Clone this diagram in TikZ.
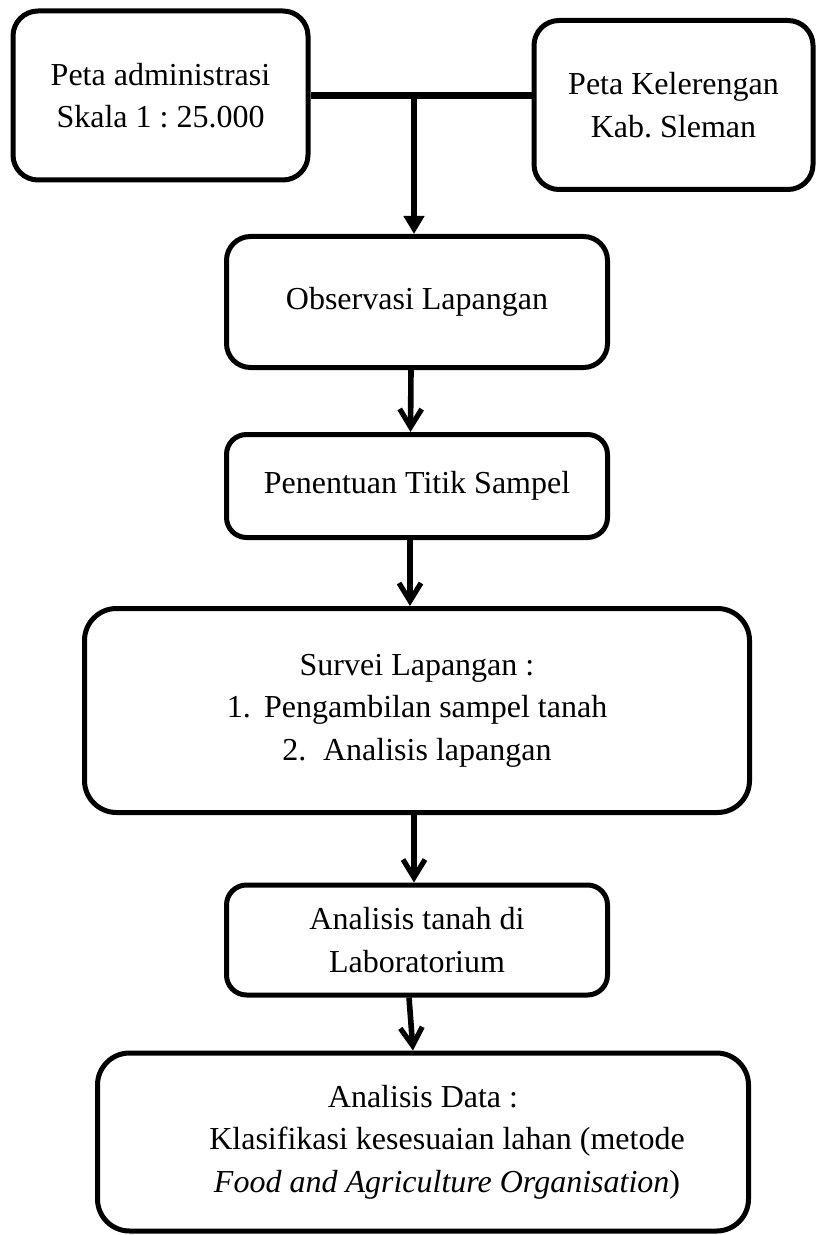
\documentclass[tikz,border=0pt]{standalone}
\usepackage{fontspec}
\setmainfont{Liberation Serif}
\usetikzlibrary{arrows.meta}
\frenchspacing
\begin{document}
\begin{tikzpicture}[x=0.5pt,y=-0.5pt,
  box/.style={draw=black,line width=2.5pt,inner sep=0pt,align=center,
    font=\fontsize{16}{21.25}\selectfont},
  link/.style={line width=2.8pt,-{Straight Barb[length=9pt,width=11pt,line width=2.6pt]}},
  firstlink/.style={line width=3pt,-{Triangle[length=9pt,width=10pt]}},
  joinline/.style={line width=3.25pt}]
\useasboundingbox (0,0) rectangle (817,1235);
\node[box,rounded corners=12.5pt,minimum width=147.5pt,minimum height=84.5pt] (b1) at (160.5,95.5)
  {Peta administrasi\\Skala 1 : 25.000};
\node[box,rounded corners=12.5pt,minimum width=139.5pt,minimum height=84.5pt] (b2) at (673.5,105)
  {Peta Kelerengan\\Kab. Sleman};
\node[box,rounded corners=12pt,minimum width=190.5pt,minimum height=65.5pt] (b3) at (417,302)
  {Observasi Lapangan};
\node[box,rounded corners=10pt,minimum width=190.5pt,minimum height=51.5pt] (b4) at (417,486)
  {Penentuan Titik Sampel};
\node[box,rounded corners=16pt,minimum width=332.5pt,minimum height=102pt] (b5) at (417,710.5)
  {Survei Lapangan :\\1.\hspace{0.42em}Pengambilan sampel tanah\\2.\hspace{0.52em}Analisis lapangan};
\node[box,rounded corners=10pt,minimum width=190.5pt,minimum height=55pt] (b6) at (417,940)
  {Analisis tanah di\\Laboratorium};
\node[box,rounded corners=16pt,minimum width=325.5pt,minimum height=89pt] (b7) at (423,1142)
  {Analisis Data :\\\hspace*{24pt}Klasifikasi kesesuaian lahan (metode\\\hspace*{24pt}\textit{Food and Agriculture Organisation})};
\draw[joinline] (b1.east) -- (b1.east -| b2.west);
\coordinate (j) at (414,95.5);
\draw[firstlink] (j) -- (j |- b3.north);
\draw[link] ([xshift=-3pt]b3.south) -- ([xshift=-3.25pt]b4.north);
\draw[link] ([xshift=-3.5pt]b4.south) -- ([xshift=-3.5pt]b5.north);
\draw[link] ([xshift=-1.5pt]b5.south) -- ([xshift=-1.5pt]b6.north);
\draw[link] ([xshift=-4pt]b6.south) -- ([xshift=-5pt]b7.north);
\end{tikzpicture}
\end{document}
